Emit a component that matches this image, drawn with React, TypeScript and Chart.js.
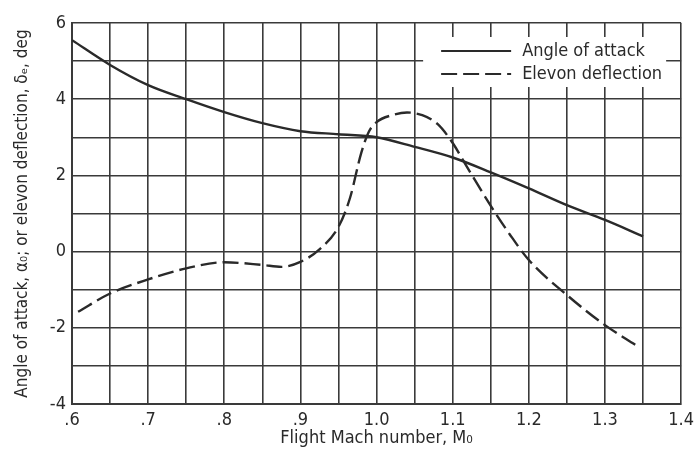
import React, { useEffect, useRef } from "react";
import { Chart, registerables } from "chart.js";

Chart.register(...registerables);

// Angle of attack (solid)
const machAngle = [0.6, 0.65, 0.7, 0.75, 0.8, 0.85, 0.9, 0.95, 1.0, 1.05, 1.1, 1.15, 1.2, 1.25, 1.3, 1.35];
const angleOfAttack = [5.55, 4.9, 4.37, 4.0, 3.66, 3.37, 3.16, 3.08, 3.0, 2.75, 2.47, 2.08, 1.66, 1.22, 0.83, 0.4];

// Elevon deflection (dashed)
const machElevon = [0.608, 0.65, 0.7, 0.75, 0.8, 0.85, 0.875, 0.9, 0.925, 0.95, 0.965, 0.98, 0.99, 1.0, 1.02, 1.04, 1.06, 1.08, 1.1, 1.115, 1.15, 1.175, 1.2, 1.25, 1.3, 1.34];
const elevonDeflection = [-1.58, -1.1, -0.73, -0.44, -0.28, -0.35, -0.4, -0.27, 0.06, 0.65, 1.4, 2.6, 3.15, 3.4, 3.58, 3.65, 3.58, 3.35, 2.85, 2.35, 1.2, 0.45, -0.22, -1.14, -1.93, -2.45];

const xTickLabels: Record<number, string> = {
  60: ".6", 70: ".7", 80: ".8", 90: ".9", 100: "1.0", 110: "1.1", 120: "1.2", 130: "1.3", 140: "1.4",
};
const yTickLabels: Record<number, string> = { 6: "6", 4: "4", 2: "2", 0: "0", [-2]: "-2", [-4]: "-4" };

const seriesNames = ["Angle of attack", "Elevon deflection"];

const FONT = "'Liberation Sans Narrow', 'DejaVu Sans Condensed', 'Arial Narrow', sans-serif";
const INK = "#2a2a2a";
const GRID = "#3a3a3a";
const DASH = [16, 6];

const legendPlugin = {
  id: "insideLegend",
  afterDatasetsDraw(chart: any) {
    const { ctx, chartArea } = chart;
    const bx = chartArea.right - 258;
    const by = chartArea.top + 14;
    const bw = 243;
    const bh = 50;
    ctx.save();
    ctx.fillStyle = "#ffffff";
    ctx.fillRect(bx, by, bw, bh);
    ctx.strokeStyle = INK;
    ctx.lineWidth = 2.2;
    ctx.beginPath();
    ctx.setLineDash([]);
    ctx.moveTo(bx + 18, by + 14);
    ctx.lineTo(bx + 88, by + 14);
    ctx.stroke();
    ctx.beginPath();
    ctx.setLineDash(DASH);
    ctx.moveTo(bx + 18, by + 37);
    ctx.lineTo(bx + 88, by + 37);
    ctx.stroke();
    ctx.setLineDash([]);
    ctx.fillStyle = INK;
    ctx.font = `18px ${FONT}`;
    ctx.textBaseline = "middle";
    ctx.textAlign = "left";
    ctx.fillText(seriesNames[0], bx + 99, by + 14);
    ctx.fillText(seriesNames[1], bx + 99, by + 37);
    ctx.restore();
  },
};

export default function App() {
  const canvasRef = useRef<HTMLCanvasElement | null>(null);

  useEffect(() => {
    document.body.style.margin = "0";
    const canvas = canvasRef.current;
    if (!canvas) return;
    const chart = new Chart(canvas, {
      type: "line",
      data: {
        datasets: [
          {
            label: seriesNames[0],
            data: machAngle.map((x, i) => ({ x, y: angleOfAttack[i] })),
            borderColor: INK,
            borderWidth: 2.4,
            pointRadius: 0,
            tension: 0.4,
            cubicInterpolationMode: "monotone",
            fill: false,
          },
          {
            label: seriesNames[1],
            data: machElevon.map((x, i) => ({ x, y: elevonDeflection[i] })),
            borderColor: INK,
            borderWidth: 2.4,
            borderDash: DASH,
            pointRadius: 0,
            tension: 0.4,
            cubicInterpolationMode: "monotone",
            fill: false,
          },
        ],
      },
      options: {
        animation: false,
        responsive: false,
        maintainAspectRatio: false,
        layout: { padding: { top: 23, right: 17, left: 0, bottom: 14 } },
        plugins: {
          legend: { display: false },
          tooltip: { enabled: false },
        },
        scales: {
          x: {
            type: "linear",
            min: 0.6,
            max: 1.4,
            border: { display: true, color: GRID, width: 2 },
            grid: { color: GRID, lineWidth: 1.6, drawTicks: false },
            ticks: {
              stepSize: 0.05,
              autoSkip: false,
              maxRotation: 0,
              padding: 6,
              color: INK,
              font: { family: FONT, size: 18 },
              callback: (v: any) => xTickLabels[Math.round(Number(v) * 100)] ?? "",
            },
            title: {
              display: true,
              text: "Flight Mach number, M₀",
              color: INK,
              font: { family: FONT, size: 18 },
              padding: { top: 0, bottom: 0 },
            },
            afterFit: (s: any) => {
              s.height = 45;
            },
          },
          y: {
            type: "linear",
            min: -4,
            max: 6,
            border: { display: true, color: GRID, width: 2 },
            grid: { color: GRID, lineWidth: 1.6, drawTicks: false },
            ticks: {
              stepSize: 1,
              autoSkip: false,
              padding: 6,
              color: INK,
              font: { family: FONT, size: 18 },
              callback: (v: any) => yTickLabels[Math.round(Number(v))] ?? "",
            },
            title: {
              display: true,
              text: "Angle of attack, α₀; or elevon deflection, δₑ, deg",
              color: INK,
              font: { family: FONT, size: 17 },
              padding: { top: 12, bottom: 0 },
            },
            afterFit: (s: any) => {
              s.width = 72;
            },
          },
        },
      },
      plugins: [legendPlugin],
    });
    return () => chart.destroy();
  }, []);

  return (
    <div style={{ position: "fixed", left: 0, top: 0, width: 700, height: 463, background: "#fff" }}>
      <canvas ref={canvasRef} width={700} height={463} style={{ width: 700, height: 463 }} />
    </div>
  );
}
